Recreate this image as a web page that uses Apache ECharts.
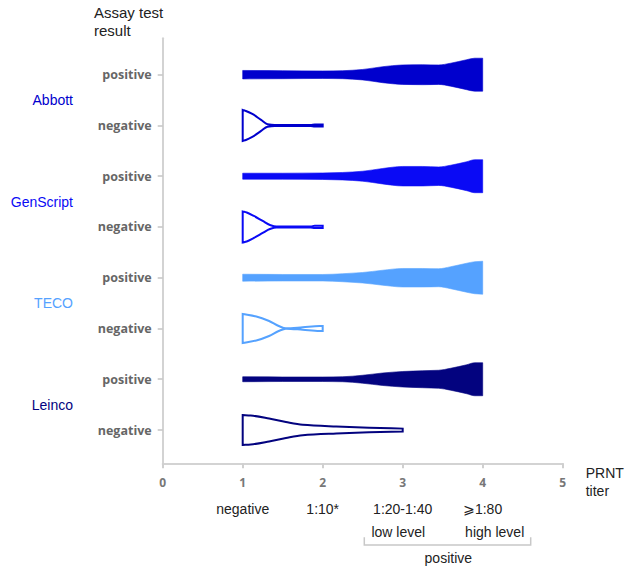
<!DOCTYPE html>
<html>
<head>
<meta charset="utf-8">
<script src="https://cdn.jsdelivr.net/npm/echarts@6/dist/echarts.min.js"></script>
<style>
html,body{margin:0;padding:0;background:#fff;}
#c{width:630px;height:569px;}
</style>
</head>
<body>
<div id="c"></div>
<script>
// ---------- data ----------
const assays = ['Abbott', 'GenScript', 'TECO', 'Leinco'];
const results = ['positive', 'negative'];
const titerTicks = [0, 1, 2, 3, 4, 5];
const titerLabels = ['', 'negative', '1:10*', '1:20-1:40', '⩾1:80', ''];

// violin profiles: x = PRNT titer level, d = relative density (width)
const abbottPosX = [1, 1.5, 2, 2.25, 2.5, 2.75, 3, 3.25, 3.45, 3.6, 3.8, 3.9, 4];
const abbottPosD = [8.5, 8, 7.5, 8, 10.5, 16, 19.5, 20, 19.5, 23, 30, 33, 33];
const abbottNegX = [1, 1.04, 1.12, 1.23, 1.31, 1.4, 1.85, 1.9, 2];
const abbottNegD = [31, 29, 23, 11, 2.5, 1, 1, 2, 2];

const genscriptPosX = [1, 1.5, 2, 2.25, 2.5, 2.75, 3, 3.25, 3.45, 3.6, 3.8, 3.9, 4];
const genscriptPosD = [6, 6, 6.5, 7.5, 10, 15.5, 19.5, 19.5, 18.5, 22, 29, 33, 33];
const genscriptNegX = [1, 1.05, 1.14, 1.25, 1.34, 1.42, 1.85, 1.9, 2];
const genscriptNegD = [31, 29, 22, 12, 4, 1, 1, 2.3, 2.3];

const tecoPosX = [1, 1.5, 2, 2.25, 2.5, 2.75, 3, 3.25, 3.45, 3.6, 3.8, 3.9, 4];
const tecoPosD = [7, 6.5, 6.5, 8, 10.5, 15, 18.5, 18.5, 18, 22, 29, 32, 33];
const tecoNegX = [1, 1.17, 1.33, 1.45, 1.54, 1.75, 1.96, 2];
const tecoNegD = [29, 24, 15, 5, 0.3, 2.5, 5, 5];

const leincoPosX = [1, 1.5, 2, 2.25, 2.5, 2.75, 3, 3.25, 3.45, 3.6, 3.8, 3.9, 4];
const leincoPosD = [5, 4.5, 4.5, 5, 8, 12.5, 15.5, 17, 18, 22, 29, 33, 33];
const leincoNegX = [1, 1.1, 1.33, 1.54, 1.75, 2.17, 2.58, 3];
const leincoNegD = [30, 29, 23, 16, 10.5, 7, 4.5, 2.8];

// ---------- styling / layout ----------
const colors = ['#0000CD', '#0A0AF5', '#55A2FF', '#03037F'];
const ROW0 = 0.717;      // first row position on the y axis
const YMAX = 8.373;
const DMAX = 33;         // density that maps to full violin width
const HALF = 0.325;      // half width (y units) at DMAX

const profiles = [
  [abbottPosX, abbottPosD, abbottNegX, abbottNegD],
  [genscriptPosX, genscriptPosD, genscriptNegX, genscriptNegD],
  [tecoPosX, tecoPosD, tecoNegX, tecoNegD],
  [leincoPosX, leincoPosD, leincoNegX, leincoNegD]
];
const violins = [];
profiles.forEach((p, a) => {
  violins.push({ xs: p[0], ds: p[1], row: ROW0 + a * 2, color: colors[a], filled: true });
  violins.push({ xs: p[2], ds: p[3], row: ROW0 + a * 2 + 1, color: colors[a], filled: false });
});
const rowValues = [];
for (let i = 0; i < assays.length * 2; i++) rowValues.push(ROW0 + i);

function monoSegs(px, py) {
  const n = px.length, h = [], m = [], t = [];
  for (let i = 0; i < n - 1; i++) { h[i] = px[i + 1] - px[i]; m[i] = (py[i + 1] - py[i]) / h[i]; }
  t[0] = m[0]; t[n - 1] = m[n - 2];
  for (let i = 1; i < n - 1; i++) {
    if (m[i - 1] * m[i] <= 0) t[i] = 0;
    else t[i] = 3 * (h[i - 1] + h[i]) / ((2 * h[i] + h[i - 1]) / m[i - 1] + (h[i] + 2 * h[i - 1]) / m[i]);
  }
  const segs = [];
  for (let i = 0; i < n - 1; i++) {
    segs.push([px[i] + h[i] / 3, py[i] + t[i] * h[i] / 3, px[i + 1] - h[i] / 3, py[i + 1] - t[i + 1] * h[i] / 3]);
  }
  return segs;
}

function violinPath(v, api) {
  const tx = [], ty = [], bx = [], by = [];
  v.xs.forEach((x, i) => {
    const hw = v.ds[i] / DMAX * HALF;
    const a = api.coord([x, v.row - hw]);
    const b = api.coord([x, v.row + hw]);
    tx.push(a[0]); ty.push(a[1]); bx.push(b[0]); by.push(b[1]);
  });
  const ts = monoSegs(tx, ty), bs = monoSegs(bx, by);
  let d = 'M' + tx[0] + ' ' + ty[0];
  ts.forEach((s, i) => { d += ' C' + s[0] + ' ' + s[1] + ' ' + s[2] + ' ' + s[3] + ' ' + tx[i + 1] + ' ' + ty[i + 1]; });
  const n = bx.length;
  d += ' L' + bx[n - 1] + ' ' + by[n - 1];
  for (let i = n - 2; i >= 0; i--) {
    const s = bs[i];
    d += ' C' + s[2] + ' ' + s[3] + ' ' + s[0] + ' ' + s[1] + ' ' + bx[i] + ' ' + by[i];
  }
  d += ' Z';
  return d;
}

const chart = echarts.init(document.getElementById('c'), null, { renderer: 'svg' });
const FONT = '"Liberation Sans", Arial, "DejaVu Sans", sans-serif';

chart.setOption({
  animation: false,
  backgroundColor: '#fff',
  title: {
    text: 'Assay test\nresult',
    left: 94, top: 3, padding: 0,
    textStyle: { fontFamily: FONT, fontSize: 15, fontWeight: 'normal', color: '#222', lineHeight: 18 }
  },
  grid: { left: 162.7, right: 67.3, top: 38.3, bottom: 105.7, containLabel: false },
  xAxis: {
    type: 'value', min: 0, max: 5, interval: 1,
    name: 'PRNT\ntiter', nameLocation: 'end', nameGap: 23,
    nameTextStyle: { fontFamily: FONT, fontSize: 14, color: '#222', lineHeight: 18, align: 'left', verticalAlign: 'top', padding: [1, 0, 0, 0] },
    axisLine: { show: true, onZero: false, lineStyle: { color: '#d3d3d3', width: 2 } },
    axisTick: { show: true, length: 5, lineStyle: { color: '#cfcfcf', width: 2 } },
    splitLine: { show: false },
    axisLabel: {
      margin: 11,
      formatter: function (v) {
        const i = titerTicks.indexOf(v);
        const w = titerLabels[i];
        return w ? '{n|' + v + '}\n{w|' + w + '}' : '{n|' + v + '}';
      },
      rich: {
        n: { fontFamily: '"Open Sans", sans-serif', fontWeight: 'bold', fontSize: 12, color: '#777', lineHeight: 16 },
        w: { fontFamily: FONT, fontSize: 14, color: '#222', lineHeight: 37 }
      }
    }
  },
  yAxis: {
    type: 'value', inverse: true, min: 0, max: YMAX,
    axisLine: { show: true, onZero: false, lineStyle: { color: '#d3d3d3', width: 2 } },
    axisTick: { show: true, length: 5, customValues: rowValues, lineStyle: { color: '#c4c4c4', width: 1.5 } },
    splitLine: { show: false },
    axisLabel: {
      margin: 11,
      customValues: rowValues,
      fontFamily: '"Open Sans", sans-serif', fontWeight: 'bold', fontSize: 12.5, color: '#666',
      formatter: function (v) { return results[Math.round(v - ROW0) % 2]; }
    }
  },
  series: [
    {
      type: 'custom',
      name: 'violins',
      coordinateSystem: 'cartesian2d',
      clip: false,
      data: violins.map(v => [v.xs[0], v.row]),
      renderItem: function (params, api) {
        const v = violins[params.dataIndex];
        return {
          type: 'path',
          shape: { pathData: violinPath(v, api) },
          style: v.filled
            ? { fill: v.color, stroke: v.color, lineWidth: 0.6 }
            : { fill: 'none', stroke: v.color, lineWidth: 2 }
        };
      }
    },
    {
      type: 'custom',
      name: 'annotations',
      coordinateSystem: 'cartesian2d',
      clip: false,
      silent: true,
      data: [[0, 0]],
      renderItem: function (params, api) {
        const children = [];
        assays.forEach((a, i) => {
          const p = api.coord([0, ROW0 + i * 2 + 0.5]);
          children.push({
            type: 'text',
            style: { text: a, x: p[0] - 89.7, y: p[1], align: 'right', verticalAlign: 'middle', fill: colors[i], fontFamily: FONT, fontSize: 14 }
          });
        });
        const base = api.coord([0, YMAX])[1];
        const t1 = api.coord([2.945, YMAX]), t2 = api.coord([4.15, YMAX]);
        const b1 = api.coord([2.52, YMAX]), b2 = api.coord([4.6, YMAX]);
        const pc = api.coord([3.57, YMAX]);
        children.push({ type: 'text', style: { text: 'low level', x: t1[0], y: base + 68.4, align: 'center', verticalAlign: 'middle', fill: '#222', fontFamily: FONT, fontSize: 14 } });
        children.push({ type: 'text', style: { text: 'high level', x: t2[0], y: base + 68.4, align: 'center', verticalAlign: 'middle', fill: '#222', fontFamily: FONT, fontSize: 14 } });
        children.push({
          type: 'polyline',
          shape: { points: [[b1[0], base + 74], [b1[0], base + 81.7], [b2[0], base + 81.7], [b2[0], base + 74]] },
          style: { fill: 'none', stroke: '#c8c8c8', lineWidth: 1.5 }
        });
        children.push({ type: 'text', style: { text: 'positive', x: pc[0], y: base + 95, align: 'center', verticalAlign: 'middle', fill: '#222', fontFamily: FONT, fontSize: 14 } });
        return { type: 'group', children: children };
      }
    }
  ]
});
</script>
</body>
</html>
